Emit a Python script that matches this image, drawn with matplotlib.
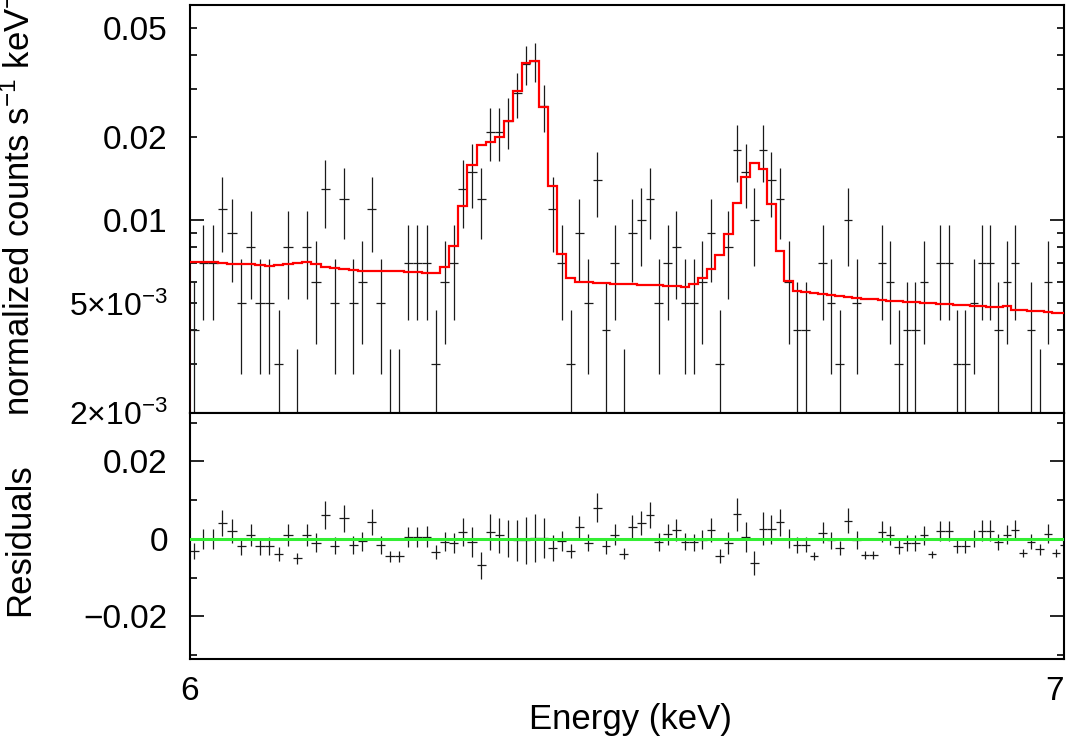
import numpy as np
import matplotlib
matplotlib.use("Agg")
import matplotlib.pyplot as plt
from matplotlib.ticker import FixedLocator, FixedFormatter, NullLocator

plt.rcParams['mathtext.default'] = 'regular'

# channel grid: 100 bins of ~10 eV, log energy axis 6-7 keV
E_FIRST = 6.0042
E_LAST = 7.0
N_BINS = 100
RATE_PER_COUNT = 1e-3   # one count in a bin, in normalized counts s^-1 keV^-1

# counts per bin (data crosses)
counts = [4, 7, 7, 11, 9, 5, 8, 5, 5, 3,
          8, 2, 8, 6, 13, 5, 12, 5, 6, 11,
          5, 2, 2, 7, 7, 7, 3, 6, 7, 13,
          15, 12, 21, 21, 23, 29, 37, 38, 26, 11,
          7, 3, 9, 5, 14, 4, 7, 2, 9, 10,
          12, 5, 7, 8, 5, 5, 6, 9, 3, 8,
          18, 15, 10, 18, 14, 12, 6, 4, 4, 1,
          7, 5, 3, 10, 5, 1, 1, 7, 6, 3,
          4, 4, 6, 1, 7, 7, 3, 3, 5, 7,
          7, 4, 6, 7, 1, 4, 2, 6, 1, 3]

# folded model (red histogram)
model = [0.00708, 0.00708, 0.00705, 0.00698, 0.00696, 0.00694, 0.00692, 0.00690, 0.00685, 0.00690,
         0.00697, 0.00700, 0.00708, 0.00697, 0.00678, 0.00672, 0.00665, 0.00660, 0.00657, 0.00655,
         0.00655, 0.00654, 0.00653, 0.00652, 0.00648, 0.00644, 0.00643, 0.00678, 0.00810, 0.01125,
         0.01585, 0.01880, 0.01920, 0.02010, 0.02300, 0.02940, 0.03740, 0.03780, 0.02580, 0.01330,
         0.00756, 0.00616, 0.00600, 0.00597, 0.00594, 0.00592, 0.00590, 0.00588, 0.00586, 0.00584,
         0.00583, 0.00581, 0.00580, 0.00578, 0.00575, 0.00590, 0.00620, 0.00668, 0.00746, 0.00896,
         0.01160, 0.01440, 0.01620, 0.01540, 0.01150, 0.00773, 0.00602, 0.00556, 0.00550, 0.00545,
         0.00541, 0.00535, 0.00532, 0.00528, 0.00525, 0.00520, 0.00518, 0.00514, 0.00511, 0.00509,
         0.00507, 0.00505, 0.00503, 0.00501, 0.00498, 0.00496, 0.00494, 0.00492, 0.00490, 0.00488,
         0.00484, 0.00484, 0.00488, 0.00474, 0.00472, 0.00471, 0.00468, 0.00466, 0.00463, 0.00461]

top_ticks = [0.002, 0.005, 0.02, 0.05]
top_labels = ['2\u00d710$^{-3}$', '5\u00d710$^{-3}$', '0.02', '0.05']
res_ticks = [-0.02, 0, 0.02]
res_labels = ['\u22120.02', '0', '0.02']

energy = np.linspace(E_FIRST, E_LAST, N_BINS)
half_w = (energy[1] - energy[0]) / 2
edges = np.append(energy - half_w, energy[-1] + half_w)

counts = np.array(counts, dtype=float)
model = np.array(model)
rate = counts * RATE_PER_COUNT
rate_err = np.sqrt(counts) * RATE_PER_COUNT
resid = rate - model

TICK_FONT = ['Liberation Sans', 'DejaVu Sans']
LABEL_FONT = ['Liberation Sans Narrow', 'Liberation Sans', 'DejaVu Sans']

fig = plt.figure(figsize=(10.68, 7.43), dpi=100)
W, H = 1068.0, 743.0
left, right = 190 / W, 1064 / W
ax1 = fig.add_axes([left, 1 - 413 / H, right - left, 408 / H])
ax2 = fig.add_axes([left, 1 - 659 / H, right - left, 246 / H], sharex=ax1)

err_kw = dict(fmt='none', ecolor='#1a1a1a', elinewidth=0.9, capsize=0)

# spectrum
ax1.errorbar(energy, rate, xerr=half_w, yerr=rate_err, zorder=2, **err_kw)
ax1.stairs(model, edges, color='red', lw=1.6, zorder=3)
ax1.set_yscale('log', nonpositive='clip')
ax1.set_ylim(0.002, 0.0605)

# residuals
ax2.errorbar(energy, resid, xerr=half_w, yerr=rate_err, zorder=2, **err_kw)
ax2.axhline(0, color='#33ee33', lw=2.2, zorder=3)
ax2.set_ylim(-0.031, 0.0325)

ax1.set_xscale('log')
ax1.set_xlim(6, 7)

# top panel y ticks: long tick only at the decade, short labelled ticks elsewhere
ax1.yaxis.set_major_locator(FixedLocator([0.01]))
ax1.yaxis.set_major_formatter(FixedFormatter(['0.01']))
minor_top = [0.002, 0.003, 0.004, 0.005, 0.006, 0.007, 0.008, 0.009,
             0.02, 0.03, 0.04, 0.05]
ax1.yaxis.set_minor_locator(FixedLocator(minor_top))
ax1.yaxis.set_minor_formatter(FixedFormatter(
    [top_labels[top_ticks.index(v)] if v in top_ticks else '' for v in minor_top]))

ax2.yaxis.set_major_locator(FixedLocator(res_ticks))
ax2.yaxis.set_major_formatter(FixedFormatter(res_labels))
ax2.yaxis.set_minor_locator(FixedLocator([-0.03, -0.01, 0.01, 0.03]))

for ax in (ax1, ax2):
    for s in ax.spines.values():
        s.set_linewidth(1.5)
    ax.tick_params(which='both', direction='in', left=True, right=True,
                   top=False, bottom=True, width=1.2, labelsize=24, pad=16)
    ax.tick_params(which='major', length=10)
    ax.tick_params(which='minor', length=5)
    for lab in ax.get_yticklabels(which='both'):
        lab.set_family(TICK_FONT)

# the x10^-3 labels are a little narrower in the reference
for lab in ax1.get_yticklabels(which='minor'):
    if '10' in lab.get_text():
        lab.set_fontsize(23)

ax2.xaxis.set_major_locator(FixedLocator([6, 7]))
ax2.xaxis.set_major_formatter(FixedFormatter(['6', '7']))
ax2.xaxis.set_minor_locator(NullLocator())
ax2.tick_params(axis='x', which='major', length=4, pad=12)
plt.setp(ax1.get_xticklabels(), visible=False)
xlabs = ax2.get_xticklabels()
for lab in xlabs:
    lab.set_family(LABEL_FONT)
    lab.set_fontsize(24)
xlabs[-1].set_horizontalalignment('right')

fig.text(20 / W, 1 - 416 / H, 'normalized counts s$^{-1}$ keV$^{-1}$',
         rotation=90, ha='center', va='bottom', fontsize=25, family=LABEL_FONT)
fig.text(20 / W, 1 - 540 / H, 'Residuals', rotation=90, ha='center', va='center',
         fontsize=25, family=LABEL_FONT)
fig.text(630 / W, 1 - 720 / H, 'Energy (keV)', ha='center', va='center',
         fontsize=25, family=LABEL_FONT)

fig.savefig('out.png', dpi=100, facecolor='white')
